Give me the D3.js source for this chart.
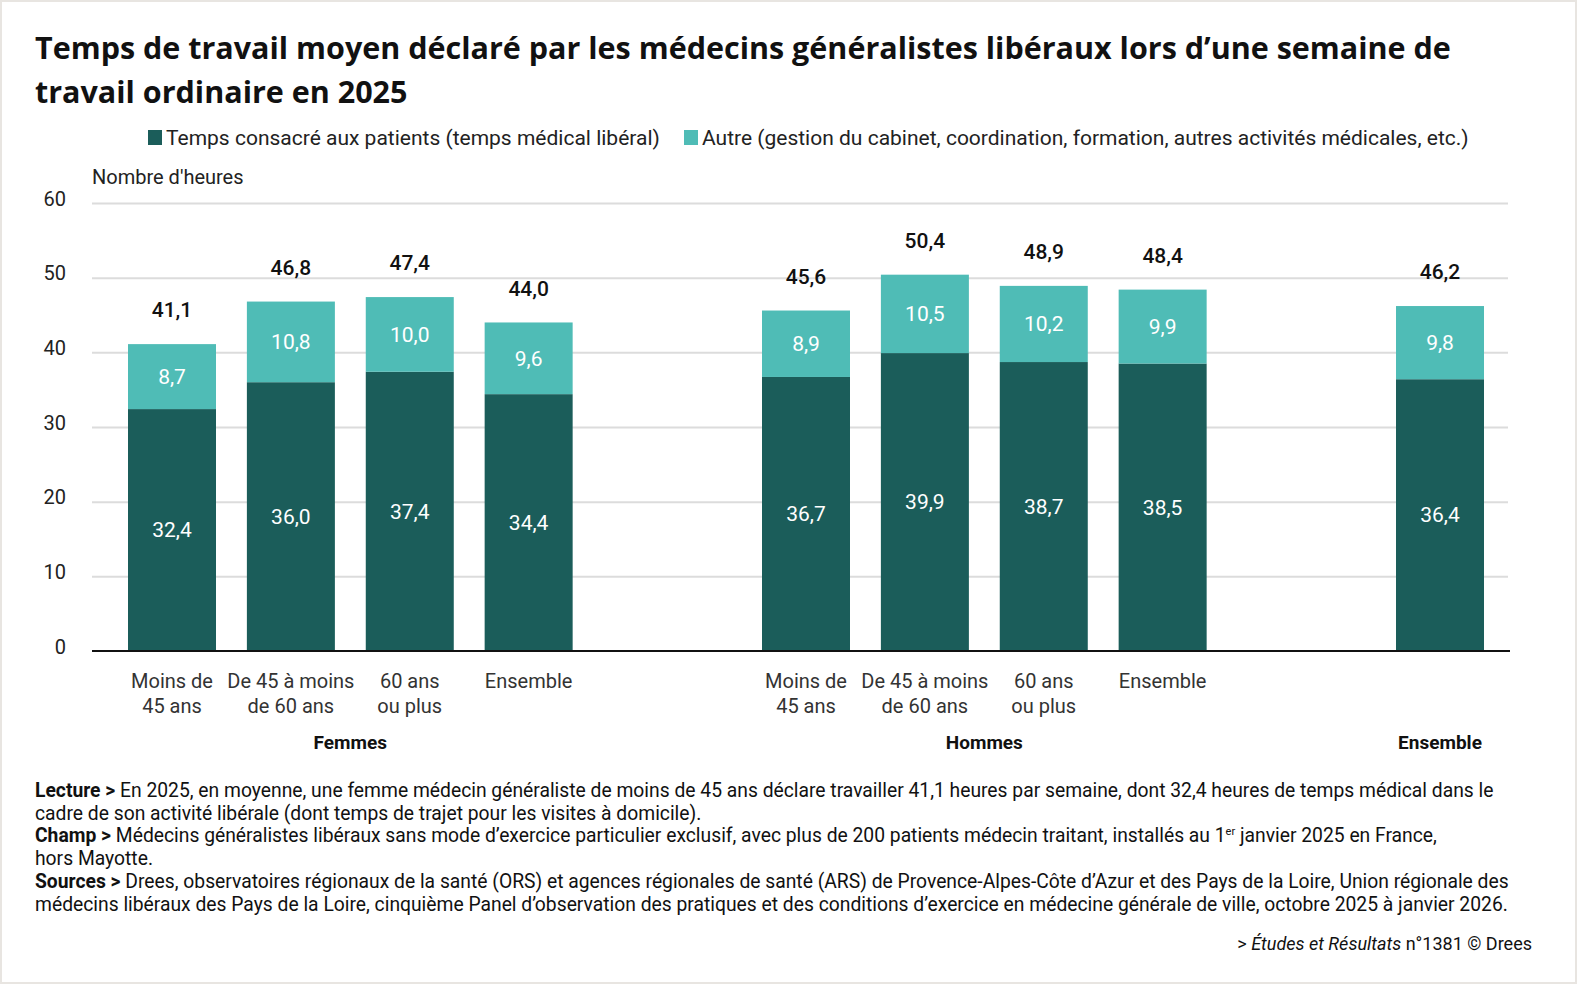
<!DOCTYPE html>
<html>
<head>
<meta charset="utf-8">
<script src="https://cdn.jsdelivr.net/npm/d3@7"></script>
<style>
    body { margin: 0; background: #fff; }
    svg text { font-family: Roboto, "Noto Sans", sans-serif; }
    svg text.title { font-family: "Open Sans", Roboto, sans-serif; }
</style>
</head>
<body>
<div class="chart"></div>
<script>

// data
var groups = ["Femmes", "Hommes", "Ensemble"];
var barGroup = [0, 0, 0, 0, 1, 1, 1, 1, 2];
var barIndex = [0, 1, 2, 3, 0, 1, 2, 3, 0];
var ageLabels = [
    ["Moins de", "45 ans"], ["De 45 à moins", "de 60 ans"], ["60 ans", "ou plus"], ["Ensemble"],
    ["Moins de", "45 ans"], ["De 45 à moins", "de 60 ans"], ["60 ans", "ou plus"], ["Ensemble"],
    []
];
var patientHours = [32.4, 36.0, 37.4, 34.4, 36.7, 39.9, 38.7, 38.5, 36.4];
var otherHours = [8.7, 10.8, 10.0, 9.6, 8.9, 10.5, 10.2, 9.9, 9.8];
var totalHours = [41.1, 46.8, 47.4, 44.0, 45.6, 50.4, 48.9, 48.4, 46.2];
var yTicks = [0, 10, 20, 30, 40, 50, 60];
var seriesNames = [
    "Temps consacré aux patients (temps médical libéral)",
    "Autre (gestion du cabinet, coordination, formation, autres activités médicales, etc.)"
];

var colors = ["#1b5d5a", "#4fbcb6"];
var fmt = function(v){ return d3.format(".1f")(v).replace(".", ","); };

var W = 1581, H = 990;

var svg = d3.select(".chart").append("svg")
    .attr("width", W)
    .attr("height", H);

// light frame round the picture
svg.append("rect")
    .attr("x", 1).attr("y", 1)
    .attr("width", W - 6).attr("height", H - 8)
    .attr("fill", "#fff")
    .attr("stroke", "#e8e5e1")
    .attr("stroke-width", 2);

// title
svg.append("text")
    .attr("class", "title")
    .attr("x", 35).attr("y", 59)
    .attr("font-size", 30.5).attr("font-weight", 700).attr("fill", "#111")
    .text("Temps de travail moyen déclaré par les médecins généralistes libéraux lors d’une semaine de");
svg.append("text")
    .attr("class", "title")
    .attr("x", 35).attr("y", 103)
    .attr("font-size", 30.5).attr("font-weight", 700).attr("fill", "#111")
    .text("travail ordinaire en 2025");

// legend
var legendX = [148, 684];
seriesNames.forEach(function(name, i){
    svg.append("rect")
        .attr("x", legendX[i]).attr("y", 130)
        .attr("width", 14).attr("height", 15)
        .attr("fill", colors[i]);
    svg.append("text")
        .attr("x", legendX[i] + 18).attr("y", 145)
        .attr("font-size", 21).attr("fill", "#222")
        .text(name);
});

// scales
var groupGap = 1.333;  // extra slots between groups
var slot = function(i){ return barIndex[i] + barGroup[i] * (3 + 1 + groupGap); };
var x = d3.scaleLinear()
    .domain([0, 2 * (4 + groupGap)])
    .range([172, 1440]);
var barWidth = 88;

var y = d3.scaleLinear()
    .domain([0, 60])
    .range([651, 203]);

svg.append("text")
    .attr("x", 92).attr("y", 184)
    .attr("font-size", 20).attr("fill", "#222")
    .text("Nombre d'heures");

// gridlines + tick labels
var yAxis = svg.append("g")
    .call(d3.axisLeft(y).tickValues(yTicks).tickSize(0).tickPadding(0));
yAxis.select(".domain").remove();
yAxis.selectAll(".tick text").remove();

yAxis.selectAll(".tick").append("line")
    .attr("x1", 92).attr("x2", 1508)
    .attr("stroke", function(d){ return d === 0 ? "none" : "#dcdcdc"; })
    .attr("stroke-width", 2);

yAxis.selectAll(".tick").append("text")
    .attr("x", 66).attr("y", -5)
    .attr("dy", "0.35em")
    .attr("text-anchor", "end")
    .attr("font-size", 20).attr("fill", "#222")
    .text(function(d){ return d; });

// bars
var bars = svg.selectAll("g.bar")
    .data(totalHours)
    .enter().append("g")
    .attr("class", "bar");

bars.append("rect")
    .attr("x", function(d, i){ return x(slot(i)) - barWidth / 2; })
    .attr("y", function(d, i){ return y(patientHours[i]); })
    .attr("width", barWidth)
    .attr("height", function(d, i){ return y(0) - y(patientHours[i]); })
    .attr("fill", colors[0]);

bars.append("rect")
    .attr("x", function(d, i){ return x(slot(i)) - barWidth / 2; })
    .attr("y", function(d, i){ return y(patientHours[i] + otherHours[i]); })
    .attr("width", barWidth)
    .attr("height", function(d, i){ return y(patientHours[i]) - y(patientHours[i] + otherHours[i]); })
    .attr("fill", colors[1]);

// value labels inside segments
bars.append("text")
    .attr("x", function(d, i){ return x(slot(i)); })
    .attr("y", function(d, i){ return y(patientHours[i] / 2); })
    .attr("dy", "0.35em")
    .attr("text-anchor", "middle")
    .attr("font-size", 21).attr("fill", "#fff")
    .text(function(d, i){ return fmt(patientHours[i]); });

bars.append("text")
    .attr("x", function(d, i){ return x(slot(i)); })
    .attr("y", function(d, i){ return y(patientHours[i] + otherHours[i] / 2); })
    .attr("dy", "0.35em")
    .attr("text-anchor", "middle")
    .attr("font-size", 21).attr("fill", "#fff")
    .text(function(d, i){ return fmt(otherHours[i]); });

// totals above
bars.append("text")
    .attr("x", function(d, i){ return x(slot(i)); })
    .attr("y", function(d){ return y(d) - 34; })
    .attr("dy", "0.35em")
    .attr("text-anchor", "middle")
    .attr("font-size", 21).attr("font-weight", 500).attr("fill", "#111")
    .text(function(d){ return fmt(d); });

// baseline
svg.append("line")
    .attr("x1", 92).attr("x2", 1510)
    .attr("y1", y(0)).attr("y2", y(0))
    .attr("stroke", "#111").attr("stroke-width", 2);

// category labels
bars.each(function(d, i){
    var t = d3.select(this).append("text")
        .attr("text-anchor", "middle")
        .attr("font-size", 20).attr("fill", "#333");
    ageLabels[i].forEach(function(line, k){
        t.append("tspan")
            .attr("x", x(slot(i)))
            .attr("y", 688 + k * 25)
            .text(line);
    });
});

// group labels
groups.forEach(function(g, gi){
    var idx = d3.range(barGroup.length).filter(function(i){ return barGroup[i] === gi; });
    var cx = d3.mean(idx, function(i){ return x(slot(i)); });
    svg.append("text")
        .attr("x", cx).attr("y", 749)
        .attr("text-anchor", "middle")
        .attr("font-size", 19).attr("font-weight", 700).attr("fill", "#111")
        .text(g);
});

// notes
var notes = [
    [["Lecture > ", true], ["En 2025, en moyenne, une femme médecin généraliste de moins de 45 ans déclare travailler 41,1 heures par semaine, dont 32,4 heures de temps médical dans le", false]],
    [["cadre de son activité libérale (dont temps de trajet pour les visites à domicile).", false]],
    [["Champ > ", true], ["Médecins généralistes libéraux sans mode d’exercice particulier exclusif, avec plus de 200 patients médecin traitant, installés au 1", false], ["er", "sup"], [" janvier 2025 en France,", "after"]],
    [["hors Mayotte.", false]],
    [["Sources > ", true], ["Drees, observatoires régionaux de la santé (ORS) et agences régionales de santé (ARS) de Provence-Alpes-Côte d’Azur et des Pays de la Loire, Union régionale des", false]],
    [["médecins libéraux des Pays de la Loire, cinquième Panel d’observation des pratiques et des conditions d’exercice en médecine générale de ville, octobre 2025 à janvier 2026.", false]]
];

notes.forEach(function(parts, li){
    var t = svg.append("text")
        .attr("x", 35).attr("y", 797 + li * 22.7)
        .attr("font-size", 19.3).attr("fill", "#111");
    parts.forEach(function(p){
        var s = t.append("tspan").text(p[0]);
        if (p[1] === true) s.attr("font-weight", 700);
        if (p[1] === "sup") s.attr("font-size", 11).attr("dy", -7);
        if (p[1] === "after") s.attr("dy", 7);
    });
});

var credit = svg.append("text")
    .attr("x", 1532).attr("y", 950)
    .attr("text-anchor", "end")
    .attr("font-size", 18).attr("fill", "#111");
credit.append("tspan").text("> ");
credit.append("tspan").attr("font-style", "italic").text("Études et Résultats");
credit.append("tspan").text(" n°1381 © Drees");

</script>
</body>
</html>
